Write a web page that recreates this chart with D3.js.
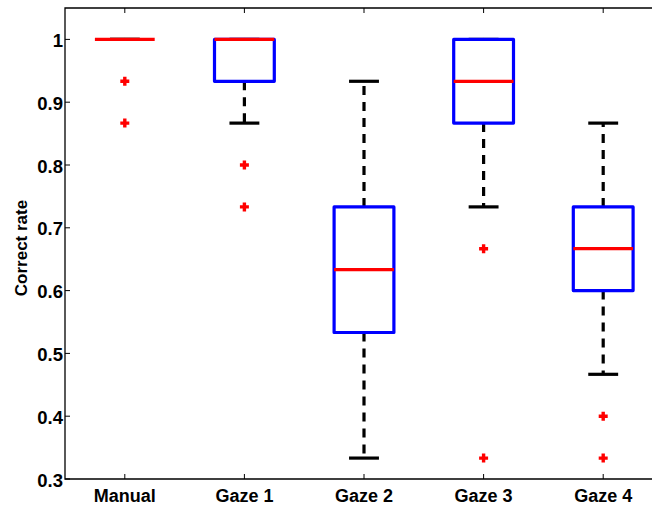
<!DOCTYPE html>
<html>
<head>
<meta charset="utf-8">
<script src="https://cdn.jsdelivr.net/npm/d3@7"></script>
<style>
  html, body { margin: 0; padding: 0; background: #fff; }
  svg { display: block; }
  text { font-family: "Liberation Sans", Arial, sans-serif; font-weight: bold; fill: #000; }
</style>
</head>
<body>
<svg id="chart" width="652" height="508"></svg>
<script>
// Box-plot summaries of correct rate per input method
const categories  = ["Manual", "Gaze 1", "Gaze 2", "Gaze 3", "Gaze 4"];
const whiskerLow  = [1.0,    0.8667, 0.3333, 0.7333, 0.4667];
const q1          = [1.0,    0.9333, 0.5333, 0.8667, 0.6000];
const median      = [1.0,    1.0,    0.6333, 0.9333, 0.6667];
const q3          = [1.0,    1.0,    0.7333, 1.0,    0.7333];
const whiskerHigh = [1.0,    1.0,    0.9333, 1.0,    0.8667];
const outliers    = [[0.9333, 0.8667], [0.8, 0.7333], [], [0.6667, 0.3333], [0.4, 0.3333]];
const yTicks      = [0.3, 0.4, 0.5, 0.6, 0.7, 0.8, 0.9, 1];

const svg = d3.select("#chart");

const plotL = 65, plotR = 663, plotT = 8, plotB = 479;
const x = d3.scaleLinear().domain([0.5, categories.length + 0.5]).range([plotL, plotR]);
const y = d3.scaleLinear().domain([0.3, 1.05]).range([plotB, plotT]);

const boxHalf = 0.25, capHalf = 0.125;
const idx = d3.range(categories.length);

// axes frame
svg.append("path")
  .attr("d", `M${plotL},${plotT}H${plotR}V${plotB}H${plotL}Z`)
  .attr("stroke", "#000").attr("stroke-width", 1.3).attr("fill", "none");

// y ticks (inward) and labels
svg.append("g").selectAll("line").data(yTicks).join("line")
  .attr("x1", plotL).attr("x2", plotL + 5)
  .attr("y1", d => y(d)).attr("y2", d => y(d))
  .attr("stroke", "#000").attr("stroke-width", 1);
svg.append("g").selectAll("text").data(yTicks).join("text")
  .attr("x", plotL - 2).attr("y", d => y(d) + 1)
  .attr("text-anchor", "end").attr("dominant-baseline", "central")
  .attr("font-size", 18.5)
  .text(d => d3.format("~g")(d));

// x ticks top and bottom (inward) and category labels
const xt = svg.append("g").attr("stroke", "#000").attr("stroke-width", 1);
xt.selectAll("line.b").data(idx).join("line").attr("class", "b")
  .attr("x1", i => x(i + 1)).attr("x2", i => x(i + 1))
  .attr("y1", plotB).attr("y2", plotB - 5);
xt.selectAll("line.t").data(idx).join("line").attr("class", "t")
  .attr("x1", i => x(i + 1)).attr("x2", i => x(i + 1))
  .attr("y1", plotT).attr("y2", plotT + 5);
svg.append("g").selectAll("text").data(idx).join("text")
  .attr("x", i => x(i + 1)).attr("y", 502)
  .attr("text-anchor", "middle").attr("font-size", 18)
  .text(i => categories[i]);

// y-axis title
svg.append("text")
  .attr("transform", `translate(27,${248}) rotate(-90)`)
  .attr("text-anchor", "middle").attr("font-size", 17)
  .text("Correct rate");

const g = svg.append("g");

// whiskers (dashed)
g.selectAll("line.wl").data(idx).join("line").attr("class", "wl")
  .attr("x1", i => x(i + 1)).attr("x2", i => x(i + 1))
  .attr("y1", i => y(q1[i])).attr("y2", i => y(whiskerLow[i]))
  .attr("stroke", "#000").attr("stroke-width", 3.2).attr("stroke-dasharray", "9,7");
g.selectAll("line.wh").data(idx).join("line").attr("class", "wh")
  .attr("x1", i => x(i + 1)).attr("x2", i => x(i + 1))
  .attr("y1", i => y(q3[i])).attr("y2", i => y(whiskerHigh[i]))
  .attr("stroke", "#000").attr("stroke-width", 3.2).attr("stroke-dasharray", "9,7");

// whisker caps
g.selectAll("line.cl").data(idx).join("line").attr("class", "cl")
  .attr("x1", i => x(i + 1 - capHalf)).attr("x2", i => x(i + 1 + capHalf))
  .attr("y1", i => y(whiskerLow[i])).attr("y2", i => y(whiskerLow[i]))
  .attr("stroke", "#000").attr("stroke-width", 3.2);
g.selectAll("line.ch").data(idx).join("line").attr("class", "ch")
  .attr("x1", i => x(i + 1 - capHalf)).attr("x2", i => x(i + 1 + capHalf))
  .attr("y1", i => y(whiskerHigh[i])).attr("y2", i => y(whiskerHigh[i]))
  .attr("stroke", "#000").attr("stroke-width", 3.2);

// boxes
g.selectAll("rect.box").data(idx).join("rect").attr("class", "box")
  .attr("x", i => x(i + 1 - boxHalf))
  .attr("width", i => x(i + 1 + boxHalf) - x(i + 1 - boxHalf))
  .attr("y", i => y(q3[i]))
  .attr("height", i => y(q1[i]) - y(q3[i]))
  .attr("fill", "none").attr("stroke", "#0000ff").attr("stroke-width", 3.2)
  .attr("stroke-linejoin", "round");

// medians
g.selectAll("line.med").data(idx).join("line").attr("class", "med")
  .attr("x1", i => x(i + 1 - boxHalf)).attr("x2", i => x(i + 1 + boxHalf))
  .attr("y1", i => y(median[i])).attr("y2", i => y(median[i]))
  .attr("stroke", "#ff0000").attr("stroke-width", 3.2);

// outliers as red plus markers
const pts = idx.flatMap(i => outliers[i].map(v => ({ i, v })));
const s = 4.5;
g.selectAll("path.out").data(pts).join("path").attr("class", "out")
  .attr("d", d => {
    const cx = x(d.i + 1), cy = y(d.v);
    return `M${cx - s},${cy}H${cx + s}M${cx},${cy - s}V${cy + s}`;
  })
  .attr("stroke", "#ff0000").attr("stroke-width", 3.4).attr("fill", "none");
</script>
</body>
</html>
